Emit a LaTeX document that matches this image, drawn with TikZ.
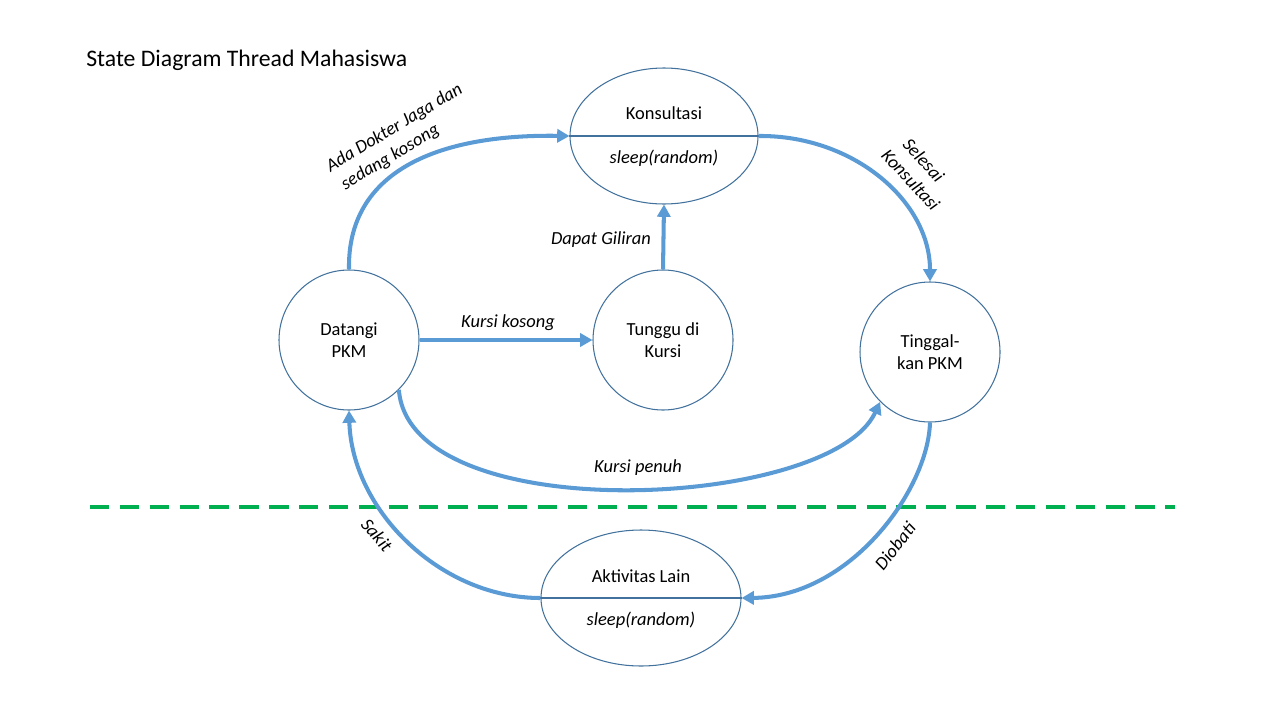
\documentclass[tikz,border=0pt]{standalone}
\usepackage{fontspec}
\setmainfont{Carlito}
\usetikzlibrary{arrows.meta,shapes.geometric}
\definecolor{arr}{HTML}{5B9BD5}
\definecolor{edge}{HTML}{41719C}
\definecolor{dashgreen}{HTML}{00B050}
\tikzset{
  state/.style={circle,draw=edge,line width=0.6pt,minimum size=140*0.02cm,inner sep=0pt,align=center,font=\fontsize{10.5}{12.5}\selectfont},
  stateell/.style={ellipse,draw=edge,line width=0.6pt,inner sep=0pt},
  tr/.style={draw=arr,line width=2.3pt,-{Triangle[length=7pt,width=7.5pt]}},
  lbl/.style={font=\fontsize{10.5}{12.5}\selectfont\itshape,align=center,inner sep=0pt},
  lbll/.style={font=\fontsize{10.5}{12.5}\selectfont\itshape,align=left,inner sep=0pt,anchor=base west},
  txt/.style={font=\fontsize{10.5}{12.5}\selectfont,inner sep=0pt}
}
\begin{document}
\begin{tikzpicture}[x=0.02cm,y=-0.02cm]
\useasboundingbox (0,0) rectangle (1280,720);
% title
\node[anchor=west,font=\fontsize{13.5}{16}\selectfont,inner sep=0pt] (title) at (86,60) {State Diagram Thread Mahasiswa};
% dashed line
\coordinate (dl) at (90,507);
\coordinate (dr) at (1175,507);
\draw[draw=dashgreen,line width=2pt,dash pattern=on 11pt off 6pt] (dl) -- (dr);
% states
\node[stateell,minimum width=188*0.02cm,minimum height=136*0.02cm] (kons) at (664,136) {};
\draw[edge,line width=0.6pt] (kons.west) -- (kons.east);
\node[txt] (konsT) at (664,113) {Konsultasi};
\node[txt,font=\fontsize{10.5}{12.5}\selectfont\itshape] (konsS) at (664,158) {sleep(random)};

\node[state] (dat) at (349,340) {Datangi\\PKM};
\node[state] (tung) at (663,340) {Tunggu di\\Kursi};
\node[state] (ting) at (930,352) {Tinggal-\\kan PKM};

\node[stateell,minimum width=200*0.02cm,minimum height=136*0.02cm] (akt) at (641,598) {};
\draw[edge,line width=0.6pt] (akt.west) -- (akt.east);
\node[txt] (aktT) at (641,576) {Aktivitas Lain};
\node[txt,font=\fontsize{10.5}{12.5}\selectfont\itshape] (aktS) at (641,620) {sleep(random)};

% transitions
\draw[tr] (dat.north) .. controls (347,170) and (440,134) .. (kons.west);
\draw[tr] (kons.east) .. controls (853,135) and (930,201) .. (ting.north);
\draw[tr] (tung.north) -- (kons.south);
\draw[tr] (dat.east) -- (tung.west);
\draw[tr] (dat.-45) .. controls (410,530) and (830,510) .. (ting.-135);
\draw[tr] (ting.south) .. controls (928,490) and (850,597) .. (akt.east);
\draw[tr] (akt.west) .. controls (440,598) and (352,510) .. (dat.south);

% labels
\node[lbll,rotate=31,font=\fontsize{10.5}{13}\selectfont\itshape] (l1) at (342,192) {Ada Dokter Jaga dan\\\hspace*{2pt}sedang kosong};
\node[lbll,rotate=-47,font=\fontsize{10.5}{13}\selectfont\itshape] (l2) at (880,156) {\hspace*{4pt}Selesai\\Konsultasi};
\node[lbl] (l3) at (601,240) {Dapat Giliran};
\node[lbl] (l4) at (508,323) {Kursi kosong};
\node[lbl] (l5) at (638,468) {Kursi penuh};
\node[lbl,rotate=52] (l6) at (895,546) {Diobati};
\node[lbl,rotate=-49] (l7) at (377,535) {Sakit};
\end{tikzpicture}
\end{document}
